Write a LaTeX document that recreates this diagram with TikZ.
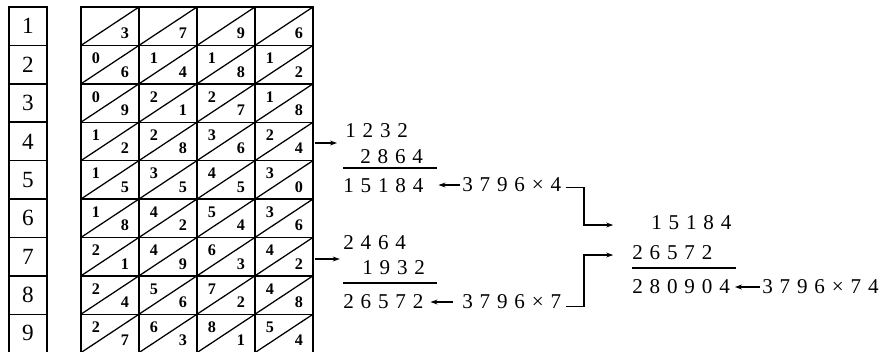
\documentclass[tikz,border=0pt]{standalone}
\usepackage{fontspec}
\setmainfont{Liberation Serif}
\newfontfamily\calcfont[WordSpace=1.3]{Liberation Serif}
\usepackage{tikz}
\usetikzlibrary{arrows.meta, calc}

\begin{document}
\begin{tikzpicture}[x=0.025cm, y=-0.025cm,
  rowbox/.style={draw, line width=1pt, minimum width=0.95cm, minimum height=0.96cm,
                 inner sep=0, font=\fontsize{16.5}{18}\selectfont},
  cell/.style={inner sep=0, font=\bfseries\fontsize{11.5}{12}\selectfont},
  calc/.style={anchor=west, inner sep=0, font=\calcfont\fontsize{15}{18}\selectfont},
  arr/.style={line width=0.8pt, -{Stealth[length=5pt, width=3.5pt]}},
  rule/.style={line width=1pt}]

  \useasboundingbox (0, 0) rectangle (880, 351);
  \clip (0, 0) rectangle (880, 351);

  \pgfmathsetmacro{\h}{38.4}
  \pgfmathsetmacro{\w}{58}

  \foreach \n in {1, ..., 9} {
    \node[rowbox] (r\n) at (28, {7 + (\n - 0.5) * \h}) {\n};
  }

  \foreach \n in {1, ..., 8}
    \draw[line width=1pt] (81, {7 + \n * \h}) -- (313, {7 + \n * \h});
  \foreach \k in {1, 2, 3}
    \draw[line width=1pt] ({81 + \k * \w}, 7) -- ({81 + \k * \w}, 360);
  \draw[line width=1.6pt] (81, 360) -- (81, 7) -- (313, 7) -- (313, 360);

  \foreach \d [count=\k] in {3, 7, 9, 6} {
    \foreach \n in {1, ..., 9} {
      \pgfmathsetmacro{\x}{81 + (\k - 1) * \w}
      \pgfmathsetmacro{\y}{7 + (\n - 1) * \h}
      \pgfmathtruncatemacro{\p}{\n * \d}
      \pgfmathtruncatemacro{\tn}{div(\p, 10)}
      \pgfmathtruncatemacro{\un}{mod(\p, 10)}
      \draw[line width=0.9pt] (\x, {\y + \h}) -- ({\x + \w}, \y);
      \node[cell] (u\n-\k) at ({\x + \w - 14}, {\y + \h - 12}) {\un};
      \ifnum\n>1
        \node[cell] (t\n-\k) at ({\x + 15}, {\y + 13}) {\tn};
      \fi
    }
  }

  \coordinate (g4) at (315, 143);
  \coordinate (g7) at (315, 259);

  \node[calc] (a1) at (345, 131) {1 2 3 2};
  \node[calc] (a2) at (360, 157) {2 8 6 4};
  \node[calc] (a3) at (343, 186) {1 5 1 8 4};
  \node[calc] (m4) at (462, 185) {3 7 9 6 × 4};
  \draw[rule] (343, 168) -- (437, 168);
  \draw[arr, shorten >=0.15cm] (g4) -- (g4 -| a3.west);
  \draw[arr, shorten <=0.05cm, shorten >=0.37cm] (m4.west) -- (m4.west -| a3.east);

  \node[calc] (b1) at (343, 243) {2 4 6 4};
  \node[calc] (b2) at (362, 268) {1 9 3 2};
  \node[calc] (b3) at (343, 302) {2 6 5 7 2};
  \node[calc] (m7) at (462, 302) {3 7 9 6 × 7};
  \draw[rule] (343, 283) -- (437, 283);
  \draw[arr, shorten >=0.08cm] (g7) -- (g7 -| b3.west);
  \draw[arr, shorten <=0.22cm, shorten >=0.17cm] (m7.west) -- (m7.west -| b3.east);

  \node[calc] (c1) at (651, 223) {1 5 1 8 4};
  \node[calc] (c2) at (632, 253) {2 6 5 7 2};
  \node[calc] (c3) at (632, 287) {2 8 0 9 0 4};
  \node[calc] (m74) at (762, 287) {3 7 9 6 × 7 4};
  \draw[rule] (632, 268) -- (736, 268);
  \draw[arr, shorten <=0.05cm, shorten >=0.12cm] (m74.west) -- (m74.west -| c3.east);

  \coordinate (k4) at (584, 225);
  \coordinate (k7) at (584, 255);
  \draw[arr, shorten >=0.47cm] ([xshift=3pt, yshift=-2pt]m4.east) -| (k4) -- (k4 -| c2.west);
  \draw[arr, shorten >=0.47cm] ([xshift=3pt, yshift=-3pt]m7.east) -| (k7) -- (k7 -| c2.west);

\end{tikzpicture}
\end{document}
